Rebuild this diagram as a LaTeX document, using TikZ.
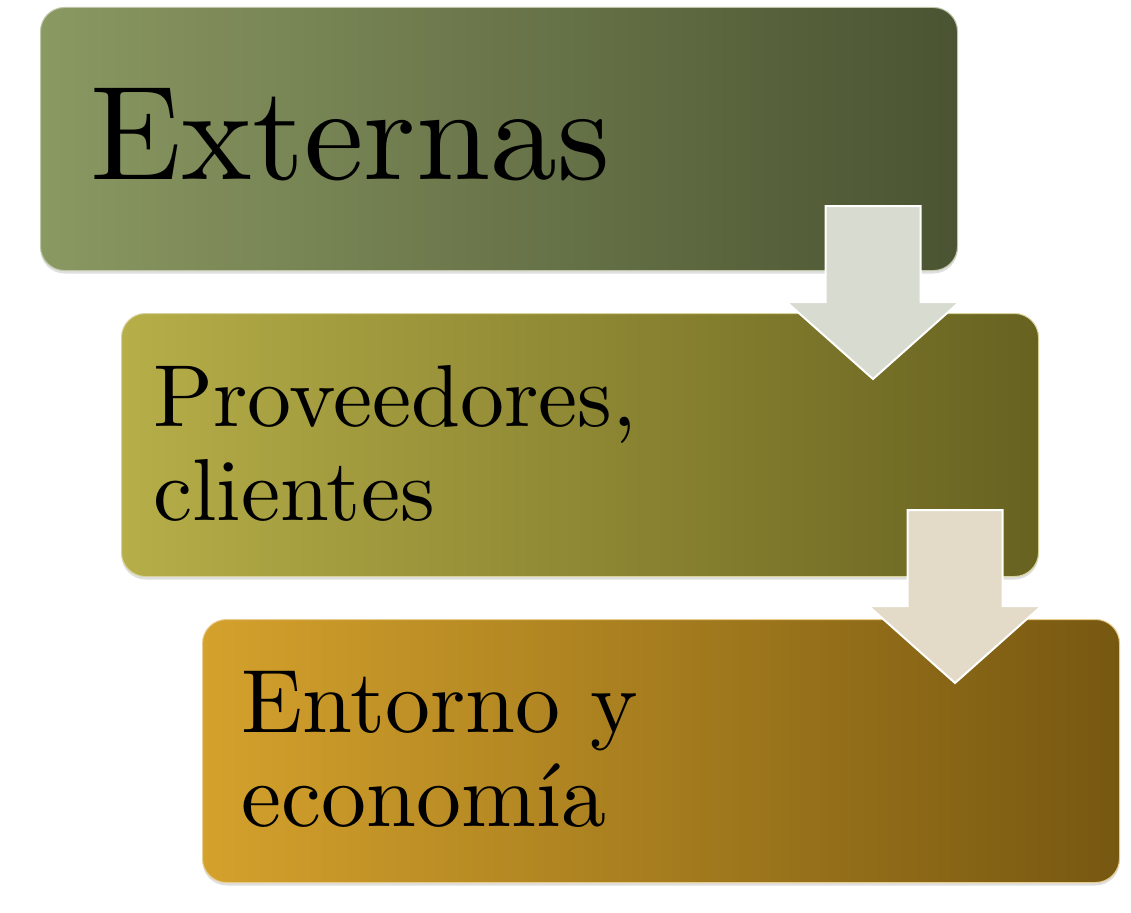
\documentclass[tikz,border=0pt]{standalone}
\usepackage{xcolor}
\usepackage{fontspec}
\newfontfamily\lmdiez{lmroman10-regular.otf}
\usetikzlibrary{positioning,calc,shadows}
\definecolor{verdel}{HTML}{8A9862}
\definecolor{verded}{HTML}{4A5432}
\definecolor{olival}{HTML}{B6AE48}
\definecolor{olivad}{HTML}{676220}
\definecolor{orol}{HTML}{D4A12C}
\definecolor{orod}{HTML}{775811}
\definecolor{flechagris}{HTML}{D8DBD0}
\definecolor{flechacrema}{HTML}{E3DAC8}
\tikzset{
  % glossy box, light on the left, dark on the right
  caja/.style 2 args = {rectangle, rounded corners=24pt, minimum width=917pt,
                  minimum height=263pt, left color=#1, right color=#2,
                  draw=#1!55!white, line width=1pt,
                  drop shadow={opacity=0.25, shadow xshift=0pt, shadow yshift=-3pt}},
  texto/.style  = {anchor=base west, inner sep=0pt, align=left,
                  font=\lmdiez\fontsize{#1pt}{94pt}\selectfont},
  texto/.default = 88,
  pics/flecha/.style = {code={
    \filldraw[fill=#1, draw=white, line width=2pt, line join=miter]
      (-47.5,0) -- (47.5,0) -- (47.5,96) -- (86.5,96) -- (0,173)
      -- (-86.5,96) -- (-47.5,96) -- cycle;}},
}
\begin{document}
\begin{tikzpicture}[x=1pt, y=-1pt]
\useasboundingbox (0,0) rectangle (1131,912);
\node[caja={verdel}{verded}] (ext) at (499,139) {};
\node[caja={olival}{olivad}] (prov) at (580,445) {};
\node[caja={orol}{orod}] (ent) at (661,751) {};
\node[texto=134] (t1) at ($(ext.north west)+(50,172.5)$) {Externas};
\node[texto] (t2) at ($(prov.north west)+(32,207.5)$) {Proveedores,\\clientes};
\node[texto=90] (t3) at ($(ent.north west)+(39,207.5)$) {Entorno y\\econom\'ia};
% arrows between the boxes
\pic at ($(ext.south east)+(-85,-65)$) {flecha=flechagris};
\pic at ($(prov.south east)+(-84,-67)$) {flecha=flechacrema};
\end{tikzpicture}
\end{document}
